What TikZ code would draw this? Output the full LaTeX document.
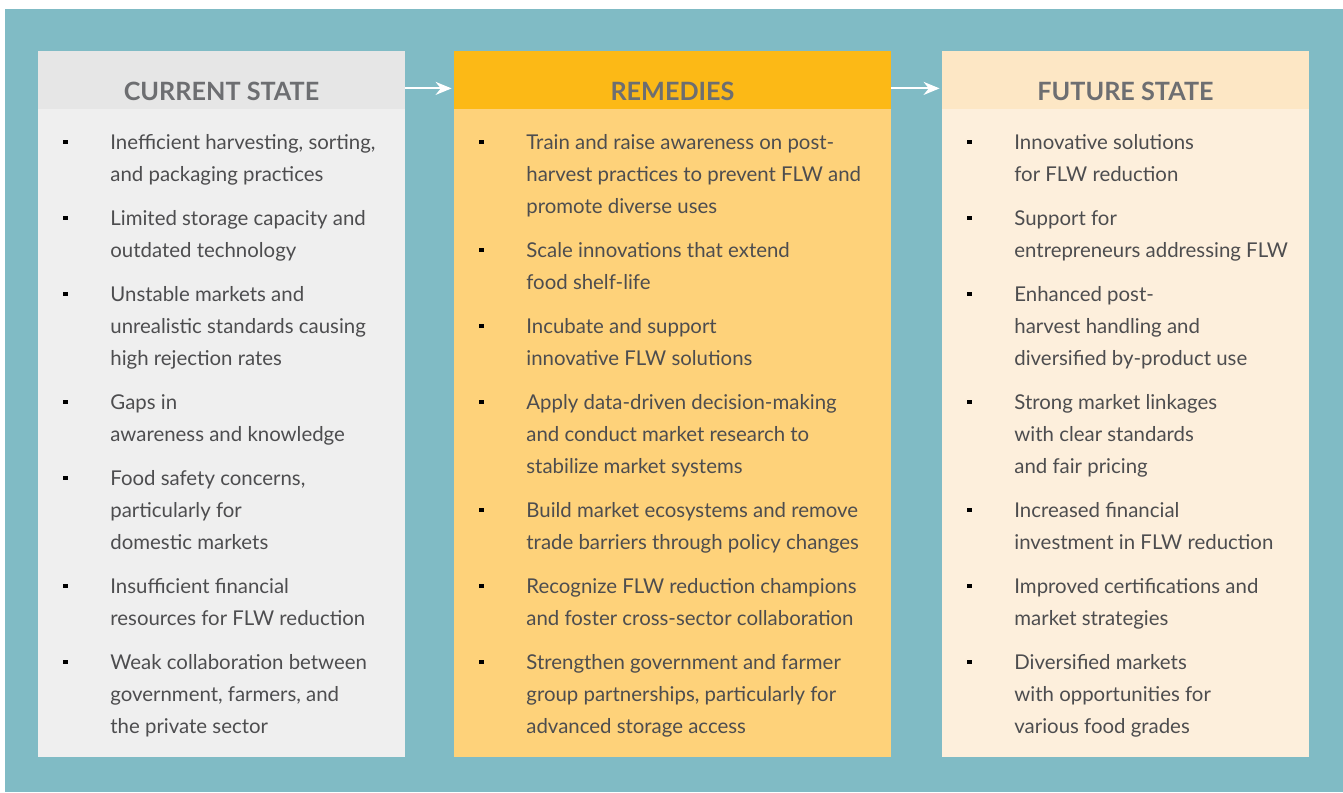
\documentclass[tikz,border=0pt]{standalone}
\usepackage{fontspec}
\setmainfont{Lato}
\usetikzlibrary{arrows.meta}
\definecolor{tealBack}{HTML}{80BBC5}
\definecolor{curHeadFill}{HTML}{E6E6E6}
\definecolor{curBodyFill}{HTML}{EFEFEF}
\definecolor{remHeadFill}{HTML}{FCB916}
\definecolor{remBodyFill}{HTML}{FED27A}
\definecolor{futHeadFill}{HTML}{FDE7C5}
\definecolor{futBodyFill}{HTML}{FDEFDC}
\definecolor{headText}{HTML}{6D6E71}
\definecolor{itemText}{HTML}{4D4D4F}
\newcommand{\curLeft}{38}
\newcommand{\remLeft}{454}
\newcommand{\futLeft}{942}
\newcommand{\panelItem}[4]{%
  \node[bulletmark] (#1Mark) at (#2+27.5,#3-7) {};
  \node[itemtext] (#1) at (#2+72,#3-22.4) {\strut#4};}

\tikzset{
  headbox/.style={rectangle, inner sep=0pt, minimum width=183.5pt, minimum height=29pt,
    text height=20pt, text depth=0pt, text=headText, font=\fontsize{12.6}{15}\selectfont\bfseries},
  bodybox/.style={rectangle, inner sep=0pt, minimum width=183.5pt, minimum height=353pt, anchor=north},
  bulletmark/.style={rectangle, fill=black, inner sep=0pt, minimum size=2.4pt},
  itemtext/.style={anchor=north west, inner sep=0pt, align=left, text=itemText,
    font=\fontsize{10.2}{16}\selectfont},
  flowarrow/.style={white, line width=1pt, -{Stealth[length=8pt,width=6.5pt]}, shorten >=1pt}
}

\begin{document}
\begin{tikzpicture}[x=0.5pt,y=-0.5pt]
\useasboundingbox (0,0) rectangle (1343,792);
\fill[white] (0,0) rectangle (1343,792);
\fill[tealBack] (5,9) rectangle (1343,792);

% panel bodies, then heads on top
\node[bodybox, fill=curBodyFill] (curBody) at (\curLeft+183.5,51) {};
\node[bodybox, fill=remBodyFill, minimum width=218.5pt] (remBody) at (\remLeft+218.5,51) {};
\node[bodybox, fill=futBodyFill] (futBody) at (\futLeft+183.5,51) {};
\node[headbox, fill=curHeadFill, anchor=north] (curHead) at (curBody.north) {CURRENT STATE};
\node[headbox, fill=remHeadFill, anchor=north, minimum width=218.5pt] (remHead) at (remBody.north) {REMEDIES};
\node[headbox, fill=futHeadFill, anchor=north] (futHead) at (futBody.north) {FUTURE STATE};

\draw[flowarrow] ([yshift=-4pt]curHead.east) -- ([yshift=-4pt]remHead.west);
\draw[flowarrow] ([yshift=-4pt]remHead.east) -- ([yshift=-4pt]futHead.west);

% current state
\panelItem{curA}{\curLeft}{149}{Inefficient harvesting, sorting,\\and packaging practices}
\panelItem{curB}{\curLeft}{225}{Limited storage capacity and\\outdated technology}
\panelItem{curC}{\curLeft}{301}{Unstable markets and\\unrealistic standards causing\\high rejection rates}
\panelItem{curD}{\curLeft}{409}{Gaps in\\awareness and knowledge}
\panelItem{curE}{\curLeft}{485}{Food safety concerns,\\particularly for\\domestic markets}
\panelItem{curF}{\curLeft}{593}{Insufficient financial\\resources for FLW reduction}
\panelItem{curG}{\curLeft}{669}{Weak collaboration between\\government, farmers, and\\the private sector}

% remedies
\panelItem{remA}{\remLeft}{149}{Train and raise awareness on post-\\harvest practices to prevent FLW and\\promote diverse uses}
\panelItem{remB}{\remLeft}{257}{Scale innovations that extend\\food shelf-life}
\panelItem{remC}{\remLeft}{333}{Incubate and support\\innovative FLW solutions}
\panelItem{remD}{\remLeft}{409}{Apply data-driven decision-making\\and conduct market research to\\stabilize market systems}
\panelItem{remE}{\remLeft}{517}{Build market ecosystems and remove\\trade barriers through policy changes}
\panelItem{remF}{\remLeft}{593}{Recognize FLW reduction champions\\and foster cross-sector collaboration}
\panelItem{remG}{\remLeft}{669}{Strengthen government and farmer\\group partnerships, particularly for\\advanced storage access}

% future state
\panelItem{futA}{\futLeft}{149}{Innovative solutions\\for FLW reduction}
\panelItem{futB}{\futLeft}{225}{Support for\\entrepreneurs addressing FLW}
\panelItem{futC}{\futLeft}{301}{Enhanced post-\\harvest handling and\\diversified by-product use}
\panelItem{futD}{\futLeft}{409}{Strong market linkages\\with clear standards\\and fair pricing}
\panelItem{futE}{\futLeft}{517}{Increased financial\\investment in FLW reduction}
\panelItem{futF}{\futLeft}{593}{Improved certifications and\\market strategies}
\panelItem{futG}{\futLeft}{669}{Diversified markets\\with opportunities for\\various food grades}
\end{tikzpicture}
\end{document}
